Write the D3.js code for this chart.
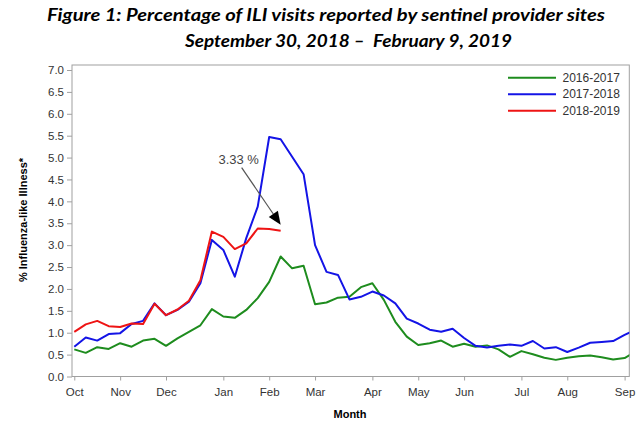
<!DOCTYPE html>
<html><head><meta charset="utf-8">
<script src="https://cdn.jsdelivr.net/npm/d3@7"></script>
<style>body{margin:0;background:#fff}svg{display:block}</style>
</head><body>
<script>
const seriesNames = ["2016-2017","2017-2018","2018-2019"];
const seriesColors = ["#1e8c1e","#1414e6","#ee1414"];
const s1617 = [0.62,0.54,0.67,0.63,0.76,0.68,0.82,0.86,0.70,0.87,1.02,1.17,1.54,1.37,1.34,1.52,1.79,2.16,2.74,2.47,2.53,1.65,1.69,1.80,1.82,2.04,2.13,1.75,1.25,0.91,0.72,0.76,0.82,0.68,0.75,0.68,0.71,0.62,0.45,0.58,0.51,0.43,0.38,0.43,0.46,0.48,0.44,0.39,0.42,0.58];
const s1718 = [0.68,0.89,0.82,0.97,0.99,1.20,1.27,1.67,1.40,1.52,1.71,2.13,3.12,2.89,2.28,3.16,3.88,5.47,5.42,5.02,4.62,3.00,2.39,2.32,1.76,1.82,1.94,1.85,1.67,1.32,1.21,1.07,1.02,1.09,0.88,0.70,0.66,0.70,0.73,0.70,0.81,0.64,0.67,0.56,0.66,0.77,0.79,0.81,0.95,1.07];
const s1819 = [1.02,1.19,1.27,1.15,1.13,1.21,1.20,1.66,1.40,1.53,1.73,2.20,3.31,3.19,2.91,3.04,3.38,3.37,3.33];
const monthLabels = ["Oct","Nov","Dec","Jan","Feb","Mar","Apr","May","Jun","Jul","Aug","Sep"];
const monthWeeks = [0,4,8,13,17,21,26,30,34,39,43,48];
const yTicks = [0,0.5,1,1.5,2,2.5,3,3.5,4,4.5,5,5.5,6,6.5,7];
const annotationText = "3.33 %";

const W = 643, H = 428;
const svg = d3.select("body").append("svg").attr("width", W).attr("height", H);
const frame = {l:72, r:629.3, t:65, b:376.5};
const x = d3.scaleLinear().domain([-0.2, 48.41]).range([frame.l, frame.r]);
const y = d3.scaleLinear().domain([0, 7]).range([376.5, 70]);

// Title
svg.append("text").attr("x", 326).attr("y", 21).attr("text-anchor","middle")
  .attr("font-family","Lato, 'Open Sans', sans-serif").attr("font-weight","bold").attr("font-style","italic")
  .attr("font-size", 16.5).attr("fill","#000").attr("textLength", 558).attr("lengthAdjust","spacingAndGlyphs")
  .text("Figure 1: Percentage of ILI visits reported by sentinel provider sites");
svg.append("text").attr("x", 348.5).attr("y", 47).attr("text-anchor","middle")
  .attr("font-family","Lato, 'Open Sans', sans-serif").attr("font-weight","bold").attr("font-style","italic")
  .attr("font-size", 16.5).attr("fill","#000").attr("textLength", 327).attr("lengthAdjust","spacingAndGlyphs")
  .attr("xml:space","preserve")
  .text("September 30, 2018 \u2013  February 9, 2019");

// Frame
svg.append("rect").attr("x", frame.l).attr("y", frame.t).attr("width", frame.r-frame.l).attr("height", frame.b-frame.t)
  .attr("fill","none").attr("stroke","#a0a0a0").attr("stroke-width",1);

// Y axis
const yAxis = d3.axisLeft(y).tickValues(yTicks).tickFormat(d3.format(".1f")).tickSize(5).tickPadding(3);
const gy = svg.append("g").attr("transform",`translate(${frame.l},0)`).call(yAxis);
gy.select(".domain").remove();
gy.selectAll("line").attr("stroke","#a0a0a0");
gy.selectAll("text").attr("font-family","'Liberation Sans', Arial, sans-serif").attr("font-size",11.5).attr("fill","#333");

// X axis
const xAxis = d3.axisBottom(x).tickValues(monthWeeks).tickFormat((d,i)=>monthLabels[i]).tickSize(4).tickPadding(7);
const gx = svg.append("g").attr("transform",`translate(0,${frame.b})`).call(xAxis);
gx.select(".domain").remove();
gx.selectAll("line").attr("stroke","#a0a0a0");
gx.selectAll("text").attr("font-family","'Liberation Sans', Arial, sans-serif").attr("font-size",11.5).attr("fill","#333");

// Axis titles
svg.append("text").attr("x", 350).attr("y", 418).attr("text-anchor","middle")
  .attr("font-family","'Liberation Sans', Arial, sans-serif").attr("font-weight","bold").attr("font-size",11).attr("fill","#000")
  .text("Month");
svg.append("text").attr("transform","translate(27,220) rotate(-90)").attr("text-anchor","middle")
  .attr("font-family","'Liberation Sans', Arial, sans-serif").attr("font-weight","bold").attr("font-size",11).attr("fill","#000")
  .text("% Influenza-like Illness*");

// Clip
svg.append("clipPath").attr("id","clip").append("rect")
  .attr("x", frame.l).attr("y", frame.t).attr("width", frame.r-frame.l).attr("height", frame.b-frame.t);

const line = d3.line().x((d,i)=>x(i)).y(d=>y(d));
const allSeries = [s1617, s1718, s1819];
const gl = svg.append("g").attr("clip-path","url(#clip)");
allSeries.forEach((s,k)=>{
  gl.append("path").datum(s).attr("d", line).attr("fill","none")
    .attr("stroke", seriesColors[k]).attr("stroke-width", 2).attr("stroke-linejoin","round");
});

// Legend
const lg = svg.append("g");
seriesNames.forEach((n,k)=>{
  const ly = 77.7 + k*16.5;
  lg.append("line").attr("x1",508).attr("x2",556).attr("y1",ly).attr("y2",ly)
    .attr("stroke",seriesColors[k]).attr("stroke-width",2);
  lg.append("text").attr("x",562.5).attr("y",ly+4.2)
    .attr("font-family","'Liberation Sans', Arial, sans-serif").attr("font-size",12).attr("fill","#333").text(n);
});

// Annotation
const li = s1819.length-1;
const tipX = x(li), tipY = y(s1819[li]) - 6;
const sx = tipX - 39, sy = tipY - 57;
const ang = Math.atan2(tipY-sy, tipX-sx);
const ah = 13, aw = 5.5;
const bx = tipX - ah*Math.cos(ang), by = tipY - ah*Math.sin(ang);
svg.append("line").attr("x1",sx).attr("y1",sy).attr("x2",bx).attr("y2",by)
  .attr("stroke","#555").attr("stroke-width",1.2);
svg.append("path").attr("d",`M${tipX},${tipY} L${bx - aw*Math.sin(ang)},${by + aw*Math.cos(ang)} L${bx + aw*Math.sin(ang)},${by - aw*Math.cos(ang)} Z`)
  .attr("fill","#000");
svg.append("text").attr("x", sx - 3).attr("y", sy - 4).attr("text-anchor","middle")
  .attr("font-family","'Liberation Sans', Arial, sans-serif").attr("font-size",13).attr("fill","#444")
  .text(annotationText);
</script>
</body></html>
